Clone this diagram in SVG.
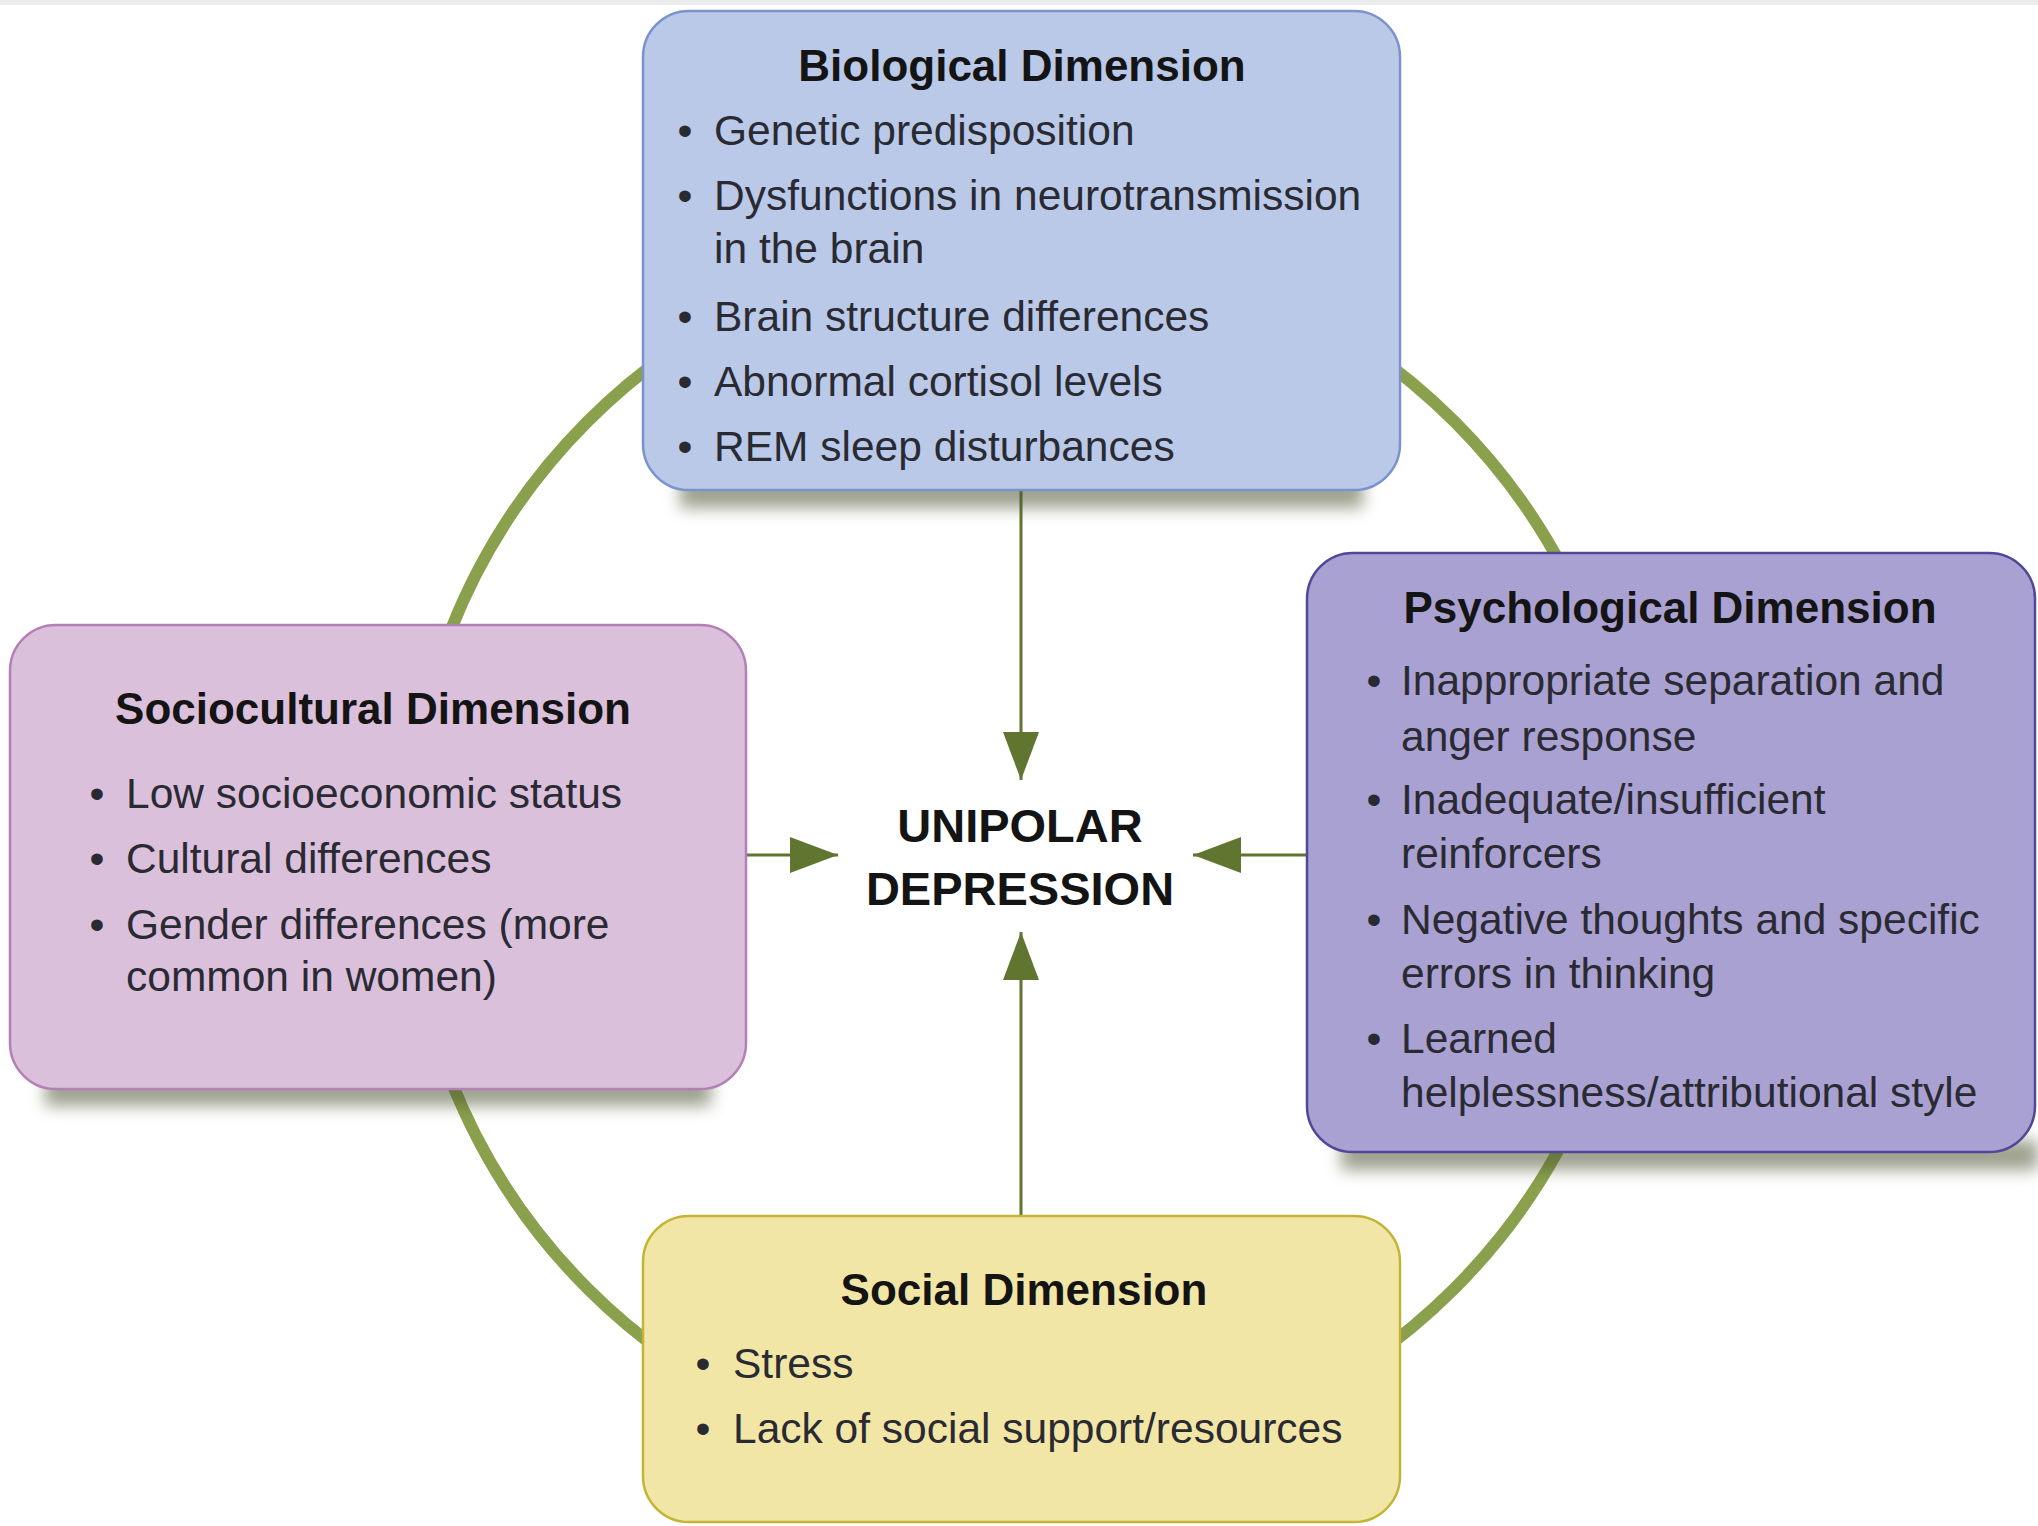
<svg xmlns="http://www.w3.org/2000/svg" width="2038" height="1526" viewBox="0 0 2038 1526">
<style>
.t{font-family:"Liberation Sans",Arial,sans-serif;font-weight:bold;font-size:44px;fill:#141414;text-anchor:middle}
.b{font-family:"Liberation Sans",Arial,sans-serif;font-size:42.5px;fill:#2a2a33}
.u{text-anchor:middle}
.c{font-family:"Liberation Sans",Arial,sans-serif;font-weight:bold;font-size:47px;fill:#141414;text-anchor:middle}
.conn{stroke:#5f7530;stroke-width:3;fill:none}
.sh{fill:#4d5530;opacity:0.55;filter:url(#blur)}
</style>
<defs>
<filter id="blur" x="-10%" y="-100%" width="120%" height="300%"><feGaussianBlur stdDeviation="8"/></filter>
<marker id="ah" markerUnits="userSpaceOnUse" markerWidth="48" markerHeight="36" refX="48" refY="18" orient="auto">
<path d="M0,0 L48,18 L0,36 z" fill="#5f7530"/>
</marker>
</defs>
<rect x="0" y="0" width="2038" height="1526" fill="#ffffff"/>
<rect x="0" y="0" width="2038" height="5" fill="#ececec"/>
<circle cx="1021" cy="855" r="613" fill="none" stroke="#8aa04c" stroke-width="12"/>
<g id="connectors">
<path class="conn" d="M1021,491 L1021,780" marker-end="url(#ah)"/>
<path class="conn" d="M746,855 L838,855" marker-end="url(#ah)"/>
<path class="conn" d="M1306,855 L1193,855" marker-end="url(#ah)"/>
<path class="conn" d="M1021,1215 L1021,932" marker-end="url(#ah)"/>
</g>
<g id="biological">
<rect class="sh" x="680" y="478" width="683" height="30"/>
<rect x="643" y="11" width="757" height="479" rx="46" fill="#b9c9e7" stroke="#7b93cc" stroke-width="2.5"/>
<text class="t" x="1022" y="81">Biological Dimension</text>
<text class="b u" x="685" y="145">•</text><text class="b" x="714" y="145">Genetic predisposition</text>
<text class="b u" x="685" y="210">•</text><text class="b" x="714" y="210">Dysfunctions in neurotransmission</text>
<text class="b" x="714" y="263">in the brain</text>
<text class="b u" x="685" y="331">•</text><text class="b" x="714" y="331">Brain structure differences</text>
<text class="b u" x="685" y="396">•</text><text class="b" x="714" y="396">Abnormal cortisol levels</text>
<text class="b u" x="685" y="461">•</text><text class="b" x="714" y="461">REM sleep disturbances</text>
</g>
<g id="sociocultural">
<rect class="sh" x="45" y="1076" width="666" height="30"/>
<rect x="10" y="625" width="736" height="464" rx="46" fill="#dbc0dc" stroke="#b47fb6" stroke-width="2.5"/>
<text class="t" x="373" y="724">Sociocultural Dimension</text>
<text class="b u" x="97" y="808">•</text><text class="b" x="126" y="808">Low socioeconomic status</text>
<text class="b u" x="97" y="873">•</text><text class="b" x="126" y="873">Cultural differences</text>
<text class="b u" x="97" y="939">•</text><text class="b" x="126" y="939">Gender differences (more</text>
<text class="b" x="126" y="991">common in women)</text>
</g>
<g id="psychological">
<rect class="sh" x="1341" y="1140" width="697" height="30"/>
<rect x="1307" y="553" width="728" height="599" rx="46" fill="#a9a1d1" stroke="#4f4797" stroke-width="2.5"/>
<text class="t" x="1670" y="623">Psychological Dimension</text>
<text class="b u" x="1374" y="695">•</text><text class="b" x="1401" y="695">Inappropriate separation and</text>
<text class="b" x="1401" y="751">anger response</text>
<text class="b u" x="1374" y="814">•</text><text class="b" x="1401" y="814">Inadequate/insufficient</text>
<text class="b" x="1401" y="868">reinforcers</text>
<text class="b u" x="1374" y="934">•</text><text class="b" x="1401" y="934">Negative thoughts and specific</text>
<text class="b" x="1401" y="988">errors in thinking</text>
<text class="b u" x="1374" y="1053">•</text><text class="b" x="1401" y="1053">Learned</text>
<text class="b" x="1401" y="1107">helplessness/attributional style</text>
</g>
<g id="social">
<rect x="643" y="1216" width="757" height="306" rx="46" fill="#f2e6a7" stroke="#c4b435" stroke-width="2.5"/>
<text class="t" x="1024" y="1305">Social Dimension</text>
<text class="b u" x="703" y="1378">•</text><text class="b" x="733" y="1378">Stress</text>
<text class="b u" x="703" y="1443">•</text><text class="b" x="733" y="1443">Lack of social support/resources</text>
</g>
<g id="unipolar">
<text class="c" x="1020" y="842">UNIPOLAR</text>
<text class="c" x="1020" y="905">DEPRESSION</text>
</g>
</svg>
